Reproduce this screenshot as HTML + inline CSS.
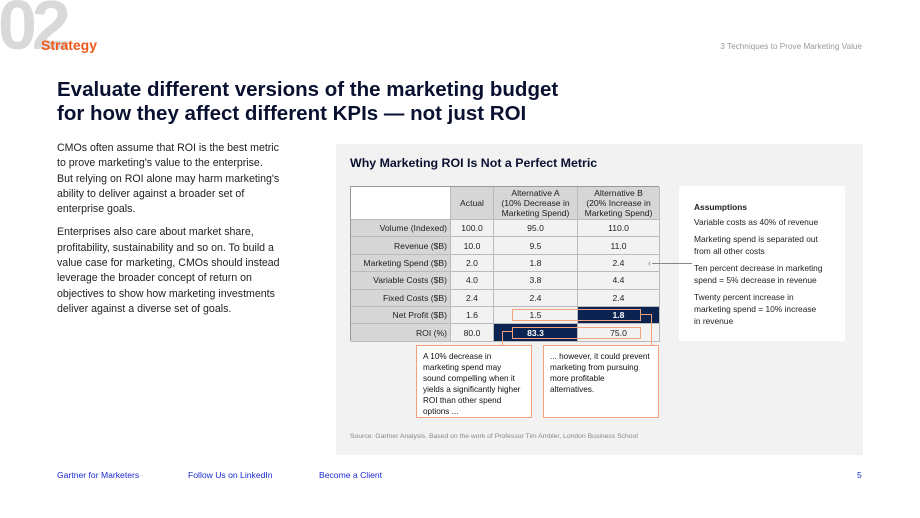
<!DOCTYPE html>
<html><head><meta charset="utf-8"><style>
*{margin:0;padding:0;box-sizing:border-box}
body{width:920px;height:518px;background:#fff;font-family:"Liberation Sans",sans-serif;position:relative;overflow:hidden;color:#111}
.a{position:absolute}
.big{left:-2px;top:-15px;font-size:70px;font-weight:bold;color:#d9d9d9;letter-spacing:-5px}
.body p{font-size:10.6px;line-height:15.3px;color:#222;margin-bottom:8px}
.cell{position:absolute;font-size:8.6px;color:#222;display:flex;align-items:center;justify-content:center;text-align:center;line-height:10px}
.ob{position:absolute;border:1px solid #f4a07a}
.ol{position:absolute;background:#f4a07a}
.as p{font-size:8.4px;line-height:12px;color:#222;margin-bottom:5px}
.ft{top:470px;font-size:8.6px;color:#1a2ad0}
.co{position:absolute;top:345px;width:116px;height:73px;border:1px solid #f4a07a;background:#fff;padding:5px 8px 0 6px;font-size:8.2px;line-height:11px}
</style></head><body>
<div class="a big">02</div>
<div class="a" style="left:41px;top:37px;font-size:14px;font-weight:bold;color:#f05a1a">Strategy</div>
<div class="a" style="left:705px;top:42px;width:157px;text-align:right;font-size:8.2px;color:#999">3 Techniques to Prove Marketing Value</div>
<div class="a" style="left:57px;top:78px;font-size:20.5px;font-weight:bold;line-height:24px;color:#0a1030">Evaluate different versions of the marketing budget<br>for how they affect different KPIs — not just ROI</div>
<div class="a body" style="left:57px;top:141px;width:232px">
<p>CMOs often assume that ROI is the best metric to prove marketing's value to the enterprise.<br>But relying on ROI alone may harm marketing's ability to deliver against a broader set of enterprise goals.</p>
<p>Enterprises also care about market share, profitability, sustainability and so on. To build a value case for marketing, CMOs should instead leverage the broader concept of return on objectives to show how marketing investments deliver against a diverse set of goals.</p></div>
<div class="a" style="left:336px;top:144px;width:527px;height:311px;background:#f2f2f2"></div>
<div class="a" style="left:350px;top:156px;font-size:12.4px;font-weight:bold;color:#0a1030">Why Marketing ROI Is Not a Perfect Metric</div>
<div id="tbl" class="a" style="left:350px;top:186px;width:309px;height:155px;border:1px solid #999;background:#f2f2f2"></div>
<div class="a as" style="left:679px;top:186px;width:166px;height:155px;background:#fff;padding:15px 22px 0 15px">
<p style="font-weight:bold;margin-bottom:3px">Assumptions</p>
<p>Variable costs as 40% of revenue</p>
<p>Marketing spend is separated out from all other costs</p>
<p>Ten percent decrease in marketing spend = 5% decrease in revenue</p>
<p>Twenty percent increase in marketing spend = 10% increase in revenue</p></div>
<div class="a" style="left:652px;top:263px;width:40px;height:1px;background:#888"></div>
<div class="a" style="left:648px;top:258px;font-size:9px;color:#888">‹</div>
<div class="ob" style="left:512px;top:309px;width:129px;height:12px"></div>
<div class="ob" style="left:512px;top:327px;width:129px;height:12px"></div>
<div class="ol" style="left:641px;top:314px;width:10px;height:1px"></div>
<div class="ol" style="left:651px;top:314px;width:1px;height:32px"></div>
<div class="ol" style="left:502px;top:331px;width:1px;height:15px"></div>
<div class="ol" style="left:502px;top:331px;width:10px;height:1px"></div>
<div class="co" style="left:416px">A 10% decrease in marketing spend may sound compelling when it yields a significantly higher ROI than other spend options ...</div>
<div class="co" style="left:543px">... however, it could prevent marketing from pursuing more profitable alternatives.</div>
<div class="a" style="left:350px;top:433px;font-size:6.8px;color:#888">Source: Gartner Analysis. Based on the work of Professor Tim Ambler, London Business School</div>
<div class="a ft" style="left:57px">Gartner for Marketers</div>
<div class="a ft" style="left:188px">Follow Us on LinkedIn</div>
<div class="a ft" style="left:319px">Become a Client</div>
<div class="a ft" style="left:857px">5</div>
<script>
const headers=["Actual","Alternative A<br>(10% Decrease in<br>Marketing Spend)","Alternative B<br>(20% Increase in<br>Marketing Spend)"];
const rowLabels=["Volume (Indexed)","Revenue ($B)","Marketing Spend ($B)","Variable Costs ($B)","Fixed Costs ($B)","Net Profit ($B)","ROI (%)"];
const actual=[100.0,10.0,2.0,4.0,2.4,1.6,80.0];
const altA=[95.0,9.5,1.8,3.8,2.4,1.5,83.3];
const altB=[110.0,11.0,2.4,4.4,2.4,1.8,75.0];
const colX=[0,100,143,227,309],hdrH=33,rowH=17.4;
const t=document.getElementById('tbl');
function cell(x,y,w,h,html,bg,name,bold,col){const d=document.createElement('div');d.className='cell';


d.style.cssText=`left:${x}px;top:${y}px;width:${w}px;height:${h}px;background:${bg};border-right:1px solid #bbb;border-bottom:1px solid #bbb;${bold?'font-weight:bold;':''}${col?'color:'+col+';':''}`;d.innerHTML=html;t.appendChild(d);return d;}
cell(0,0,100,hdrH,"","#fff","header-blank");
headers.forEach((h,i)=>cell(colX[i+1],0,colX[i+2]-colX[i+1],hdrH,h,"#d6d6d6","header-"+i));
const series=[actual,altA,altB];
rowLabels.forEach((r,j)=>{const y=hdrH+j*rowH;
 const c=cell(0,y,100,rowH,r,"#d6d6d6","row-label-"+j);c.style.justifyContent='flex-end';c.style.paddingRight='3px';
 series.forEach((s,i)=>{let bg="#f2f2f2",b=false,col=null;
  const isMax=(j>=5)&&s[j]===Math.max(actual[j],altA[j],altB[j])&&i>0;
  if(isMax){bg="#0a2350";b=true;col="#fff";}
  cell(colX[i+1],y,colX[i+2]-colX[i+1],rowH,s[j].toFixed(1),bg,"cell-"+j+"-"+i,b,col);});
});
</script>
</body></html>
